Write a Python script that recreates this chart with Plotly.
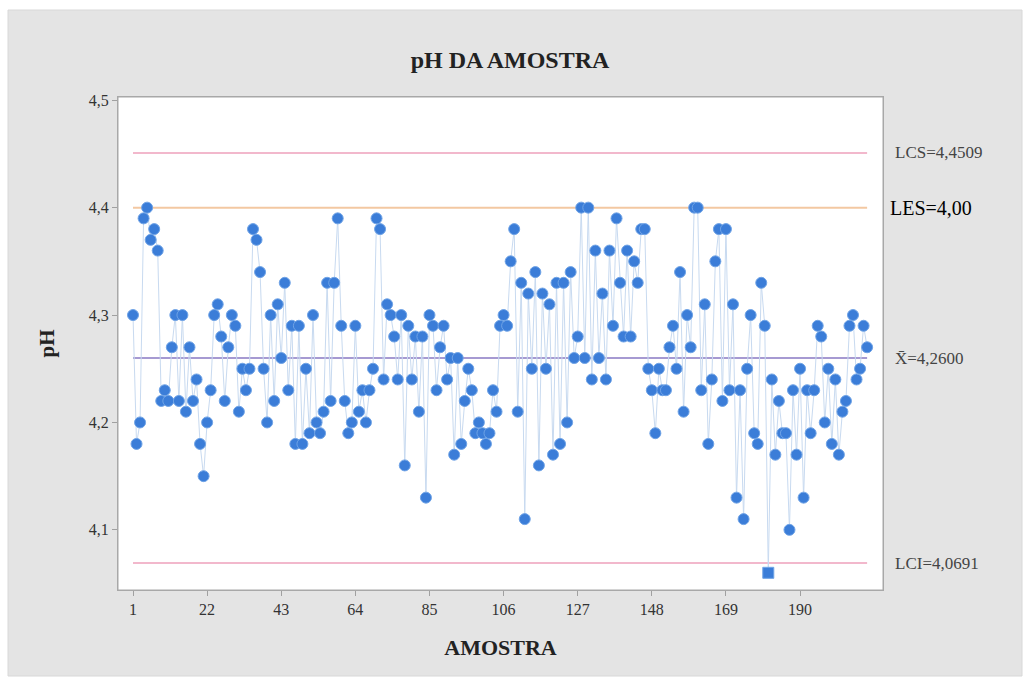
import plotly.graph_objects as go

ph = [
    4.30, 4.18, 4.20, 4.39, 4.40, 4.37, 4.38, 4.36, 4.22, 4.23,
    4.22, 4.27, 4.30, 4.22, 4.30, 4.21, 4.27, 4.22, 4.24, 4.18,
    4.15, 4.20, 4.23, 4.30, 4.31, 4.28, 4.22, 4.27, 4.30, 4.29,
    4.21, 4.25, 4.23, 4.25, 4.38, 4.37, 4.34, 4.25, 4.20, 4.30,
    4.22, 4.31, 4.26, 4.33, 4.23, 4.29, 4.18, 4.29, 4.18, 4.25,
    4.19, 4.30, 4.20, 4.19, 4.21, 4.33, 4.22, 4.33, 4.39, 4.29,
    4.22, 4.19, 4.20, 4.29, 4.21, 4.23, 4.20, 4.23, 4.25, 4.39,
    4.38, 4.24, 4.31, 4.30, 4.28, 4.24, 4.30, 4.16, 4.29, 4.24,
    4.28, 4.21, 4.28, 4.13, 4.30, 4.29, 4.23, 4.27, 4.29, 4.24,
    4.26, 4.17, 4.26, 4.18, 4.22, 4.25, 4.23, 4.19, 4.20, 4.19,
    4.18, 4.19, 4.23, 4.21, 4.29, 4.30, 4.29, 4.35, 4.38, 4.21,
    4.33, 4.11, 4.32, 4.25, 4.34, 4.16, 4.32, 4.25, 4.31, 4.17,
    4.33, 4.18, 4.33, 4.20, 4.34, 4.26, 4.28, 4.40, 4.26, 4.40,
    4.24, 4.36, 4.26, 4.32, 4.24, 4.36, 4.29, 4.39, 4.33, 4.28,
    4.36, 4.28, 4.35, 4.33, 4.38, 4.38, 4.25, 4.23, 4.19, 4.25,
    4.23, 4.23, 4.27, 4.29, 4.25, 4.34, 4.21, 4.30, 4.27, 4.40,
    4.40, 4.23, 4.31, 4.18, 4.24, 4.35, 4.38, 4.22, 4.38, 4.23,
    4.31, 4.13, 4.23, 4.11, 4.25, 4.30, 4.19, 4.18, 4.33, 4.29,
    4.06, 4.24, 4.17, 4.22, 4.19, 4.19, 4.10, 4.23, 4.17, 4.25,
    4.13, 4.23, 4.19, 4.23, 4.29, 4.28, 4.20, 4.25, 4.18, 4.24,
    4.17, 4.21, 4.22, 4.29, 4.30, 4.24, 4.25, 4.29, 4.27,
]
samples = list(range(1, len(ph) + 1))

LCS = 4.4509
LES = 4.40
MEAN = 4.26
LCI = 4.0691

x_ticks = [1, 22, 43, 64, 85, 106, 127, 148, 169, 190]
y_ticks = [4.1, 4.2, 4.3, 4.4, 4.5]
y_tick_text = ["4,1", "4,2", "4,3", "4,4", "4,5"]

limit_labels = [
    (LCS, "LCS=4,4509"),
    (MEAN, "X\u0304=4,2600"),
    (LCI, "LCI=4,0691"),
]

serif = "Liberation Serif, Times New Roman, serif"
marker_color = "#3b7dd8"

fig = go.Figure()

# control / spec lines
xs_line = [samples[0], samples[-1]]
for val, col in [(LCS, "#f2b8cc"), (LES, "#f3c8a2"), (MEAN, "#a69ad2"), (LCI, "#f2b8cc")]:
    fig.add_trace(go.Scatter(x=xs_line, y=[val, val], mode="lines",
                             line=dict(color=col, width=2), hoverinfo="skip",
                             showlegend=False))

symbols = ["square" if v < LCI else "circle" for v in ph]
fig.add_trace(go.Scatter(
    x=samples, y=ph, mode="lines+markers",
    line=dict(color="#c8daf0", width=1),
    marker=dict(color=marker_color, size=11, symbol=symbols,
                line=dict(color="#6fa3e6", width=1)),
    showlegend=False,
))

# right-side labels
annotations = []
for val, txt in limit_labels:
    annotations.append(dict(x=1.013, xref="paper", y=val, yref="y", text=txt,
                            showarrow=False, xanchor="left", yanchor="middle",
                            font=dict(family=serif, size=17, color="#444444")))
annotations.append(dict(x=1.006, xref="paper", y=LES, yref="y", text="LES=4,00",
                        showarrow=False, xanchor="left", yanchor="middle",
                        font=dict(family=serif, size=20, color="#000000")))

W, H = 1029, 681
L, R, T, B = 118, 883, 97, 590
pw, ph_ = R - L, B - T

def px(xp):
    return (xp - L) / pw

def py(yp):
    return (B - yp) / ph_

shapes = [
    dict(type="rect", xref="paper", yref="paper", x0=px(8), x1=px(1022),
         y0=py(676), y1=py(10), fillcolor="#e4e4e4",
         line=dict(color="#d8d8d8", width=1), layer="below"),
    dict(type="rect", xref="paper", yref="paper", x0=0, x1=1, y0=0, y1=1,
         fillcolor="#ffffff", line=dict(color="#a8a8a8", width=1), layer="below"),
]

fig.update_layout(
    width=W, height=H,
    margin=dict(l=L, r=W - R, t=T, b=H - B),
    paper_bgcolor="#ffffff",
    plot_bgcolor="rgba(0,0,0,0)",
    title=dict(text="<b>pH DA AMOSTRA</b>", x=510 / W, xanchor="center",
               y=1 - 60 / H, yanchor="middle",
               font=dict(family=serif, size=24, color="#222222")),
    shapes=shapes,
    annotations=annotations,
    showlegend=False,
)

fig.update_xaxes(
    range=[-3.25, 213.5], tickvals=x_ticks, ticks="outside", ticklen=5,
    tickcolor="#a0a0a0", showgrid=False, zeroline=False,
    showline=True, linecolor="#a8a8a8", mirror=True,
    tickfont=dict(family=serif, size=16, color="#333333"),
    title=dict(text="<b>AMOSTRA</b>", standoff=22,
               font=dict(family=serif, size=22, color="#222222")),
)
fig.update_yaxes(
    range=[4.044, 4.503], tickvals=y_ticks, ticktext=y_tick_text,
    ticks="outside", ticklen=5, tickcolor="#a0a0a0", showgrid=False,
    zeroline=False, showline=True, linecolor="#a8a8a8", mirror=True,
    tickfont=dict(family=serif, size=16, color="#333333"),
    title=dict(text="<b>pH</b>", standoff=28,
               font=dict(family=serif, size=21, color="#222222")),
)

fig.write_html("out.html")
